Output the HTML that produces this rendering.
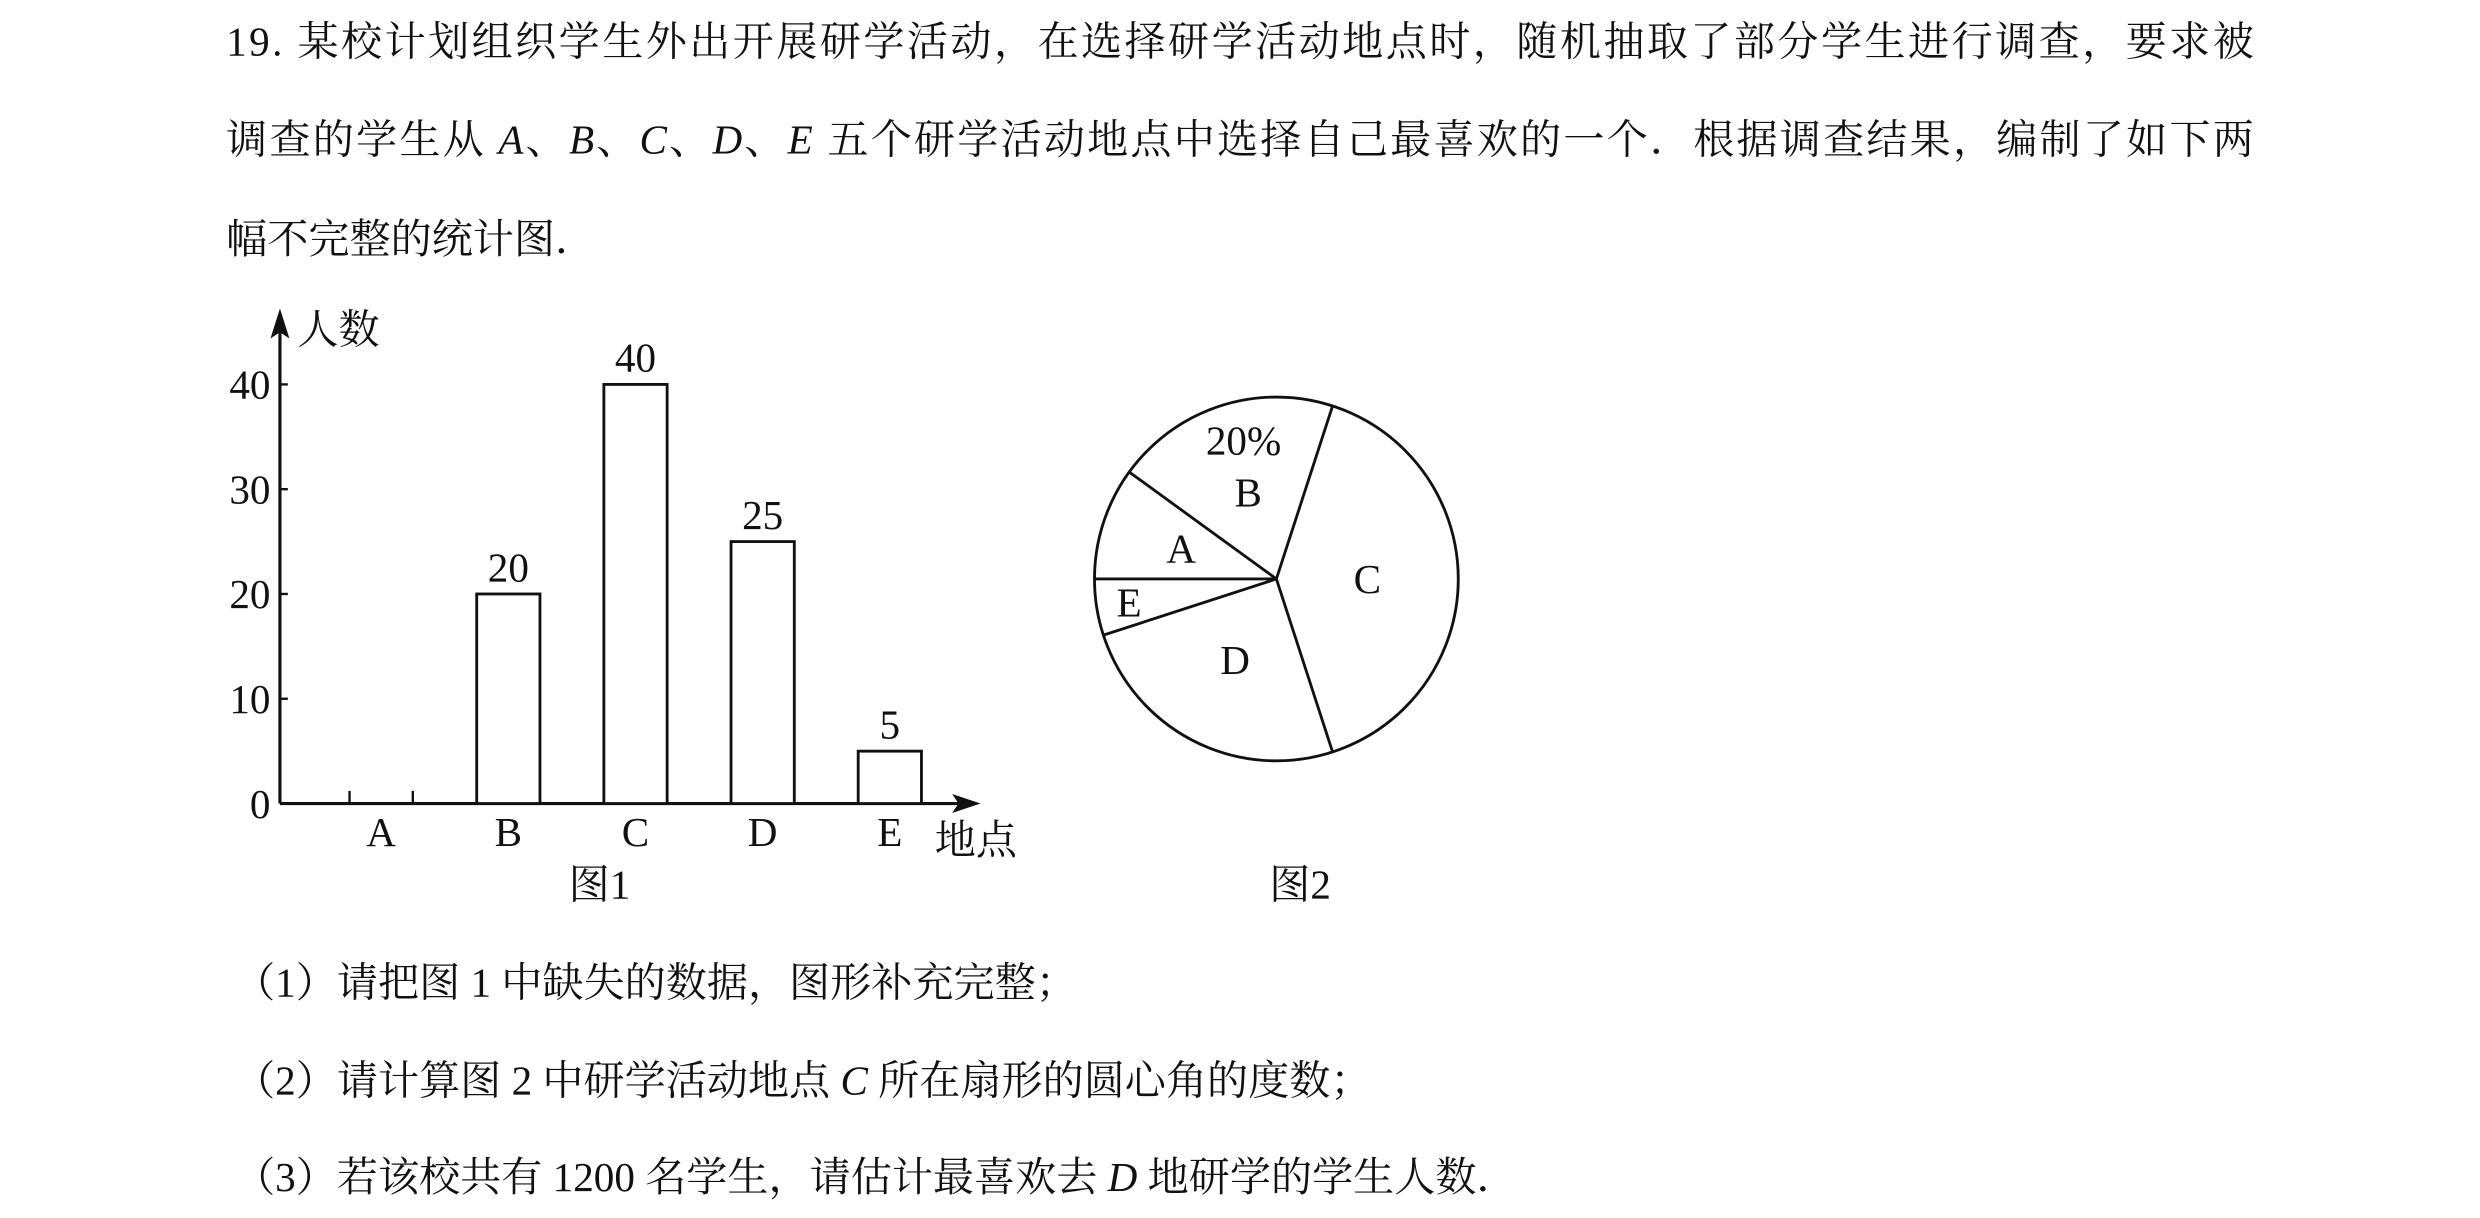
<!DOCTYPE html>
<html><head><meta charset="utf-8"><style>
html,body{margin:0;padding:0;background:#fff;width:2480px;height:1218px;overflow:hidden}
svg{display:block}
text{font-family:"Liberation Serif","Noto Serif CJK SC",serif;fill:#111}
</style></head><body>
<svg id="page" width="2480" height="1218" viewBox="0 0 1568 770" xmlns="http://www.w3.org/2000/svg">
<g font-size="26">
<text x="143" y="35" textLength="1282" lengthAdjust="spacing">19. 某校计划组织学生外出开展研学活动，在选择研学活动地点时，随机抽取了部分学生进行调查，要求被</text>
<text x="143" y="97" textLength="1282" lengthAdjust="spacing">调查的学生从 <tspan font-style="italic">A</tspan>、<tspan font-style="italic">B</tspan>、<tspan font-style="italic">C</tspan>、<tspan font-style="italic">D</tspan>、<tspan font-style="italic">E</tspan> 五个研学活动地点中选择自己最喜欢的一个．根据调查结果，编制了如下两</text>
<text x="143" y="160">幅不完整的统计图．</text>
<text x="148" y="630">（1）请把图 1 中缺失的数据，图形补充完整；</text>
<text x="148" y="692">（2）请计算图 2 中研学活动地点 <tspan font-style="italic">C</tspan> 所在扇形的圆心角的度数；</text>
<text x="148" y="753">（3）若该校共有 1200 名学生，请估计最喜欢去 <tspan font-style="italic">D</tspan> 地研学的学生人数．</text>
</g>
<g id="bar"></g>
<g id="pie"></g>
</svg>
<script>
const categories=['A','B','C','D','E'];
const barValues=[null,20,40,25,5];
const yTicks=[0,10,20,30,40];
const pieValues=[10,20,40,25,5];
const pieLabels=['A','B','C','D','E'];

const NS='http://www.w3.org/2000/svg';
function mk(tag,attrs,parent,txt){const e=document.createElementNS(NS,tag);for(const k in attrs)e.setAttribute(k,attrs[k]);if(txt!==undefined)e.textContent=txt;parent.appendChild(e);return e;}
const bar=document.getElementById('bar');
const x0=177,yBase=508,yPer=6.625;
const yS=v=>yBase-v*yPer;
const xS=i=>241+i*80.4;
let e=mk('line',{x1:x0,y1:yBase,x2:612,y2:yBase,stroke:'#111','stroke-width':2},bar);

e=mk('polygon',{points:'620,508 602,502 606,508 602,514',fill:'#111'},bar);

e=mk('line',{x1:x0,y1:yBase,x2:x0,y2:203,stroke:'#111','stroke-width':2},bar);

e=mk('polygon',{points:'177,195 171,214 177,210 183,214',fill:'#111'},bar);

e=mk('text',{x:188,y:217,'font-size':26},bar,'人数');

e=mk('text',{x:591,y:540,'font-size':26},bar,'地点');

e=mk('text',{x:379,y:568,'font-size':26,'text-anchor':'middle'},bar,'图1');

yTicks.forEach(t=>{
  if(t>0){const l=mk('line',{x1:x0,y1:yS(t),x2:x0+5,y2:yS(t),stroke:'#111','stroke-width':1.5},bar);
  }
  const tx=mk('text',{x:171,y:yS(t)+9,'font-size':26,'text-anchor':'end'},bar,String(t));
  
});
categories.forEach((c,i)=>{
  const cx=xS(i),v=barValues[i];
  const lb=mk('text',{x:cx,y:535,'font-size':26,'text-anchor':'middle'},bar,c);
  
  if(v===null){
    [-20,20].forEach(d=>{const t=mk('line',{x1:cx+d,y1:yBase-8,x2:cx+d,y2:yBase,stroke:'#111','stroke-width':1.5},bar);
    });
    return;
  }
  const r=mk('rect',{x:cx-20,y:yS(v),width:40,height:yBase-yS(v),fill:'#fff',stroke:'#111','stroke-width':1.8},bar);
  
  const vl=mk('text',{x:cx,y:yS(v)-8,'font-size':26,'text-anchor':'middle'},bar,String(v));
  
});
const pie=document.getElementById('pie');
const pcx=807,pcy=366,R=115;
const total=pieValues.reduce((a,b)=>a+b,0);
e=mk('circle',{cx:pcx,cy:pcy,r:R,fill:'#fff',stroke:'#111','stroke-width':1.8},pie);

let ang=180;
const pt=(a,r)=>[pcx+r*Math.cos(a*Math.PI/180),pcy-r*Math.sin(a*Math.PI/180)];
const labOff={A:[0.55,0],B:[0.5,0],C:[0.5,0],D:[0.5,0],E:[0.82,0]};
pieValues.forEach((v,i)=>{
  const p=pt(ang,R);
  const ln=mk('line',{x1:pcx,y1:pcy,x2:p[0],y2:p[1],stroke:'#111','stroke-width':1.8},pie);
  
  const sweep=v/total*360;
  const mid=ang-sweep/2;
  const name=pieLabels[i];
  const lp=pt(mid,R*labOff[name][0]);
  const t=mk('text',{x:lp[0],y:lp[1]+9,'font-size':26,'text-anchor':'middle'},pie,name);
  
  if(name==='B'){
    const pc=mk('text',{x:lp[0]-3,y:lp[1]-24,'font-size':26,'text-anchor':'middle'},pie,Math.round(v/total*100)+'%');
    
  }
  ang-=sweep;
});
e=mk('text',{x:822,y:568,'font-size':26,'text-anchor':'middle'},pie,'图2');

</script>
</body></html>
